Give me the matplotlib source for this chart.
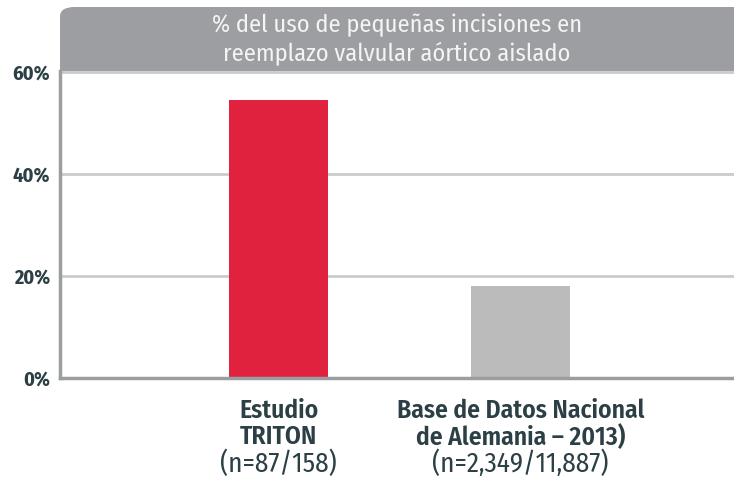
import matplotlib
matplotlib.use('Agg')
import matplotlib.pyplot as plt
from matplotlib.patches import FancyBboxPatch

# data
categories = ['Estudio\nTRITON', 'Base de Datos Nacional\nde Alemania – 2013)']
sizes = ['(n=87/158)', '(n=2,349/11,887)']
values = [54.5, 18.1]
colors = ['#e0223f', '#babbba']
yticks = [0, 20, 40, 60]
title = '% del uso de pequeñas incisiones en\nreemplazo valvular aórtico aislado'

plt.rcParams['font.family'] = ['Fira Sans Condensed', 'DejaVu Sans']

TXT = '#2b3f45'
fig = plt.figure(figsize=(7.34, 4.79), dpi=100)
ax = fig.add_axes([60/734, 1-378/479, 1-60/734, (378-71)/479])

x = list(range(len(values)))
ax.bar(x, values, width=0.41, color=colors, zorder=3)
ax.set_xlim(-0.903, 1.882)
ax.set_ylim(0, 60.2)
ax.set_yticks(yticks)
ax.set_yticklabels([f'{t}%' for t in yticks], fontsize=14.5, fontweight='bold', color=TXT)
ax.tick_params(axis='y', length=0, pad=7)
ax.set_xticks([])
ax.grid(axis='y', color='#cacbcb', lw=2, zorder=1)
for s in ['top', 'right']:
    ax.spines[s].set_visible(False)
for s in ['left', 'bottom']:
    ax.spines[s].set_color('#9a9ea1')
    ax.spines[s].set_linewidth(2.5)
    ax.spines[s].set_zorder(4)

tr = ax.get_xaxis_transform()
for xi, cat, n in zip(x, categories, sizes):
    l1, l2 = cat.split('\n')
    ax.text(xi, -33/307, l1, transform=tr, ha='center', va='center',
            fontsize=18.4, fontweight='semibold', color=TXT)
    ax.text(xi, -59/307, l2, transform=tr, ha='center', va='center',
            fontsize=18.4, fontweight='semibold', color=TXT)
    ax.text(xi, -86/307, n, transform=tr, ha='center', va='center',
            fontsize=19.5, color=TXT)

# gray title banner with rounded top corners
banner = FancyBboxPatch((60/734, 1-100/479), 1.2, (100-7)/479,
                        boxstyle='round,pad=0,rounding_size=0.02',
                        transform=fig.transFigure, facecolor='#9c9ea1',
                        edgecolor='none', zorder=-1)
fig.patches.append(banner)
fig.text(397/734, 1-25/479, title.split('\n')[0], ha='center', va='center',
         fontsize=17.6, color='#f4f4f4')
fig.text(397/734, 1-54/479, title.split('\n')[1], ha='center', va='center',
         fontsize=17.6, color='#f4f4f4')

fig.savefig('out.png', dpi=100)
